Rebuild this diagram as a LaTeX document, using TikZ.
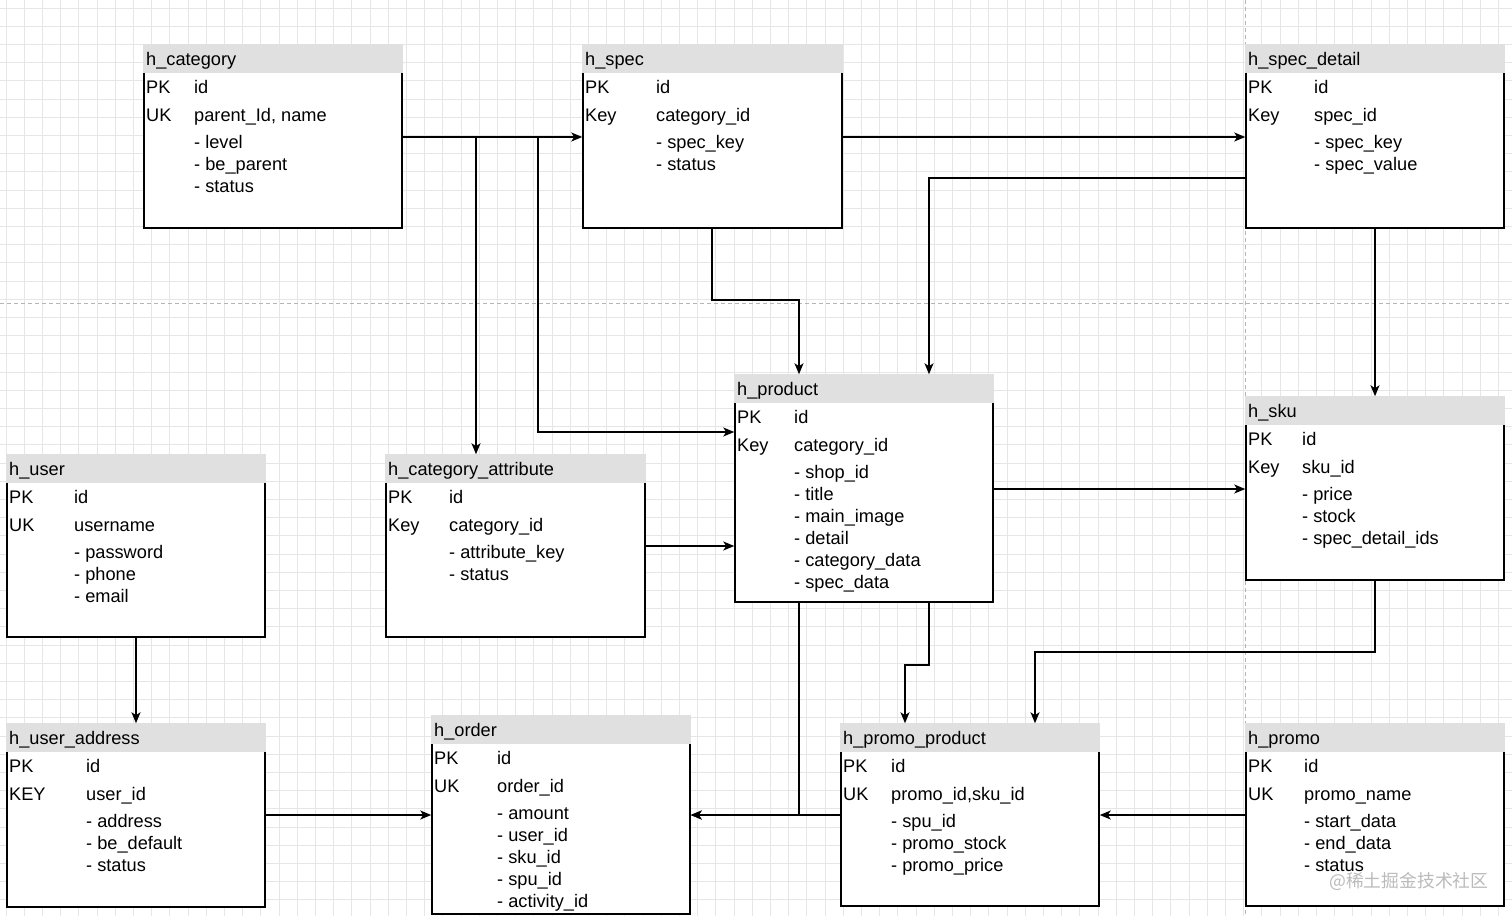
\documentclass[tikz,border=0pt]{standalone}
\usepackage{fontspec}
\setmainfont{Liberation Sans}
\newfontfamily\cjkfont{Noto Sans CJK SC}
\usetikzlibrary{arrows.meta,fit,calc}
\definecolor{hdrgray}{HTML}{E0E0E0}
\definecolor{gridgray}{HTML}{E6E6E6}
\definecolor{pagegray}{HTML}{B5B5B5}
\definecolor{wmgray}{HTML}{BBBBBB}
\tikzset{
  tblbody/.style={draw=black, line width=1.5pt, fill=white, inner sep=0pt},
  tblhead/.style={fill=hdrgray, inner sep=0pt},
  txt/.style={anchor=west, inner sep=0pt, text height=13pt, text depth=4pt},
  conn/.style={line width=1.4pt, draw=black, -{Stealth[length=11pt,width=9pt,inset=3pt]}},
  gridline/.style={draw=gridgray, line width=0.7pt},
  pageline/.style={draw=pagegray, line width=0.8pt, dash pattern=on 4pt off 3pt},
}
\newcommand{\ertable}[9]{%
  \coordinate (#1-nw) at (#2,#3);
  \coordinate (#1-se) at (#4,#5);
  \node[tblbody, fit=(#1-nw)(#1-se)] (#1) {};
  \coordinate (#1-hnw) at (#2-1,#3-1);
  \coordinate (#1-hse) at (#4+1,#3+28);
  \node[tblhead, fit=(#1-hnw)(#1-hse)] (#1-h) {};
  \node[txt] (#1-title) at (#2+2,#3+15.5) {#7};
  \foreach \k/\v [count=\i] in {#8} {
    \node[txt] (#1-k\i) at (#2+2,{#3+15.5+28*\i}) {\k};
    \node[txt] (#1-v\i) at (#2+#6,{#3+15.5+28*\i}) {\v};
  }
  \foreach \t [count=\j] in {#9} {
    \node[txt] (#1-a\j) at (#2+#6,{#3+76.5+22*\j}) {- \t};
  }
}
\begin{document}
\begin{tikzpicture}[x=1pt,y=-1pt,font=\fontsize{18.2}{22}\selectfont]
\useasboundingbox (0,0) rectangle (1512,916);
\fill[white] (0,0) rectangle (1512,916);
% grid
\foreach \gx in {0,...,83} {\draw[gridline] ({6+18.2*\gx},0) -- ({6+18.2*\gx},916);}
\foreach \gy in {0,...,50} {\draw[gridline] (0,{8+18.2*\gy}) -- (1512,{8+18.2*\gy});}
% page breaks
\draw[pageline] (0,303) -- (1512,303);
\draw[pageline] (1245,0) -- (1245,916);

% tables
\ertable{cat}{144}{45}{402}{228}{50}{h\_category}{PK/id,UK/{parent\_Id, name}}{level,be\_parent,status}
\ertable{spec}{583}{45}{842}{228}{73}{h\_spec}{PK/id,Key/category\_id}{spec\_key,status}
\ertable{specd}{1246}{45}{1504}{228}{68}{h\_spec\_detail}{PK/id,Key/spec\_id}{spec\_key,spec\_value}
\ertable{prod}{735}{375}{993}{602}{59}{h\_product}{PK/id,Key/category\_id}{shop\_id,title,main\_image,detail,category\_data,spec\_data}
\ertable{sku}{1246}{397}{1504}{580}{56}{h\_sku}{PK/id,Key/sku\_id}{price,stock,spec\_detail\_ids}
\ertable{user}{7}{455}{265}{637}{67}{h\_user}{PK/id,UK/username}{password,phone,email}
\ertable{catattr}{386}{455}{645}{637}{63}{h\_category\_attribute}{PK/id,Key/category\_id}{attribute\_key,status}
\ertable{uaddr}{7}{724}{265}{907}{79}{h\_user\_address}{PK/id,KEY/user\_id}{address,be\_default,status}
\ertable{order}{432}{716}{690}{914}{65}{h\_order}{PK/id,UK/order\_id}{amount,user\_id,sku\_id,spu\_id,activity\_id}
\ertable{pprod}{841}{724}{1099}{906}{50}{h\_promo\_product}{PK/id,UK/{promo\_id,sku\_id}}{spu\_id,promo\_stock,promo\_price}
\ertable{promo}{1246}{724}{1504}{906}{58}{h\_promo}{PK/id,UK/promo\_name}{start\_data,end\_data,status}

% helper coordinates
\foreach \n in {137,178,300,432,489,546,652,665,815} {\coordinate (y\n) at (0,\n);}
\foreach \n in {136,476,538,712,799,905,929,1035,1375} {\coordinate (x\n) at (\n,0);}
\coordinate (b1) at (476,137);
\coordinate (b2) at (538,137);

% connectors
\draw[conn] (cat.east |- y137) -- (spec.west |- y137);
\draw[conn] (b1) -- (catattr.north -| b1);
\draw[conn] (b2) |- (prod.west |- y432);
\draw[conn] (spec.east |- y137) -- (specd.west |- y137);
\draw[conn] (spec.south -| x712) -- (x712 |- y300) -| (prod.north -| x799);
\draw[conn] (specd.west |- y178) -| (prod.north -| x929);
\draw[conn] (specd.south -| x1375) -- (sku.north -| x1375);
\draw[conn] (prod.east |- y489) -- (sku.west |- y489);
\draw[conn] (catattr.east |- y546) -- (prod.west |- y546);
\draw[conn] (user.south -| x136) -- (uaddr.north -| x136);
\draw[conn] (uaddr.east |- y815) -- (order.west |- y815);
\draw[conn] (prod.south -| x799) |- (order.east |- y815);
\draw[conn] (pprod.west |- y815) -- (order.east |- y815);
\draw[conn] (prod.south -| x929) -- (x929 |- y665) -| (pprod.north -| x905);
\draw[conn] (sku.south -| x1375) -- (x1375 |- y652) -| (pprod.north -| x1035);
\draw[conn] (promo.west |- y815) -- (pprod.east |- y815);

% watermark
\node[anchor=west, inner sep=0pt, text=wmgray, font=\cjkfont\fontsize{17.8}{20}\selectfont] (wm) at (1329,881) {@稀土掘金技术社区};
\end{tikzpicture}
\end{document}
